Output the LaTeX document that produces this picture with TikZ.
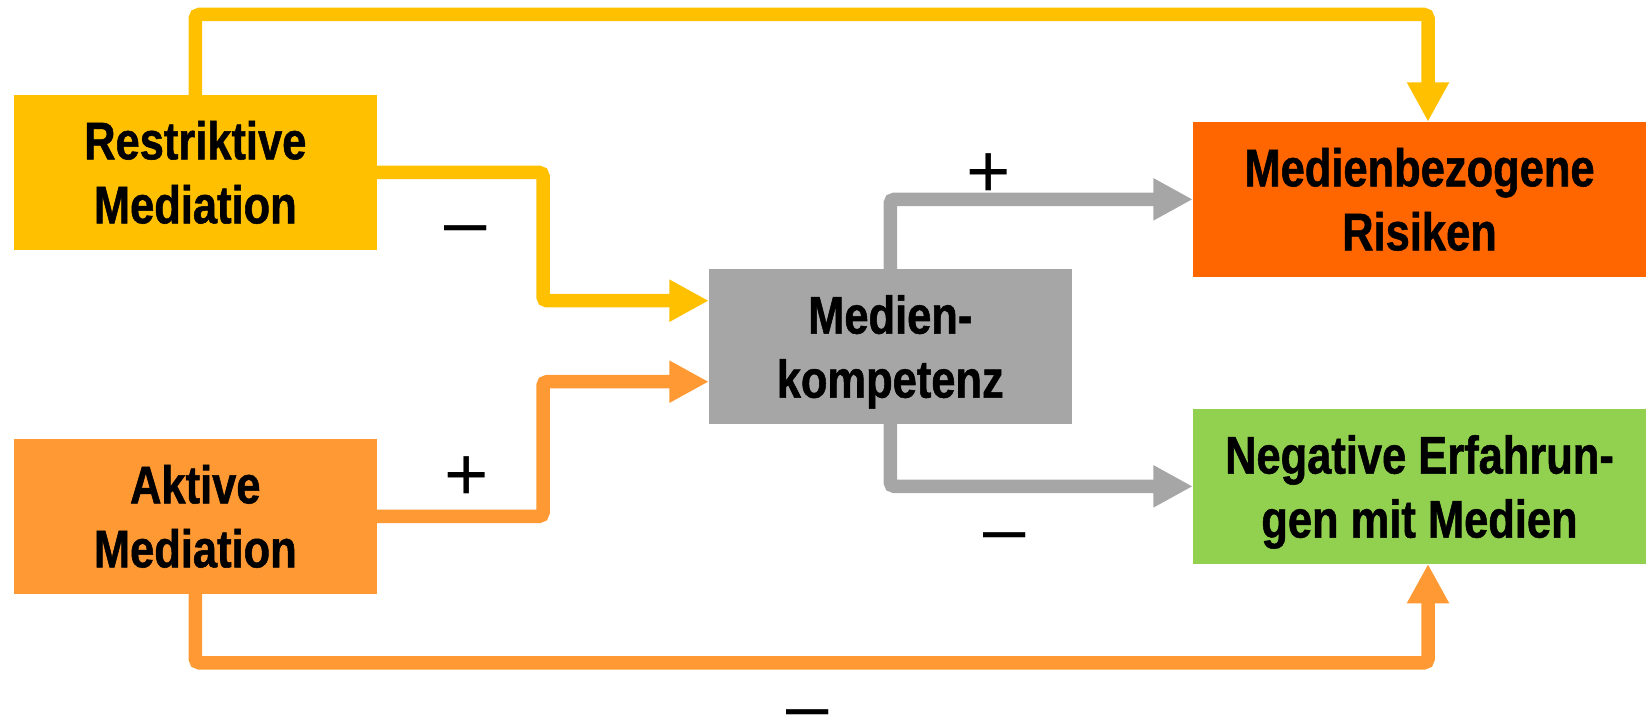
\documentclass[tikz,border=0pt]{standalone}
\usepackage{fontspec}
\setmainfont{Liberation Sans}
\newfontfamily\boxfont{Liberation Sans}[FakeStretch=0.82,FakeBold=1]
\usetikzlibrary{arrows.meta}
\definecolor{cyellow}{HTML}{FFC000}
\definecolor{corange}{HTML}{FF9933}
\definecolor{cred}{HTML}{FF6600}
\definecolor{cgray}{HTML}{A6A6A6}
\definecolor{cgreen}{HTML}{92D050}
% signs whose box is their own ink, centred on the node anchor
\newcommand\minussign{\raisebox{-0.254em}[0.034em][0.034em]{–}}
\newcommand\plussign{\raisebox{-0.357em}[0.24em][0.24em]{+}}

\begin{document}
\begin{tikzpicture}[x=1pt,y=-1pt,
  box/.style={inner sep=0pt, align=center, text=black,
    font=\boxfont\bfseries\fontsize{53}{64}\selectfont,
    minimum height=154.7pt},
  leftbox/.style={box, minimum width=363pt},
  rightbox/.style={box, minimum width=453pt},
  link/.style={line width=13.5pt, rounded corners=4pt,
    -{Triangle[length=39.4pt,width=39.4pt]}},
  sign/.style={font=\fontsize{76}{80}\selectfont, inner sep=0pt, anchor=center}]
\useasboundingbox (0,0) rectangle (1646,719);

% boxes
\node[leftbox, fill=cyellow] (R) at (195.3,172.35) {Restriktive\\Mediation};
\node[leftbox, fill=corange] (A) at (195.3,516.35) {Aktive\\Mediation};
\node[box, fill=cgray, minimum width=362.5pt] (M) at (890.25,346.4) {Medien-\\\smash{kompetenz}};
\node[rightbox, fill=cred] (Risk) at (1419.5,199.35) {Medienbezogene\\Risiken};
\node[rightbox, fill=cgreen] (Neg) at (1419.5,486.35) {Negative Erfahrun-\\\smash{gen mit Medien}};

% bend points of the connectors
\coordinate (rm) at (543,300.7);
\coordinate (am) at (543,381.7);
\coordinate (top) at (1428,14.5);
\coordinate (bot) at (1428,662.8);

% connectors
\draw[link, cyellow] (R.north) |- (top) -- (top |- Risk.north);
\draw[link, cyellow] (R.east) -| (rm) -- (rm -| M.west);
\draw[link, corange] (A.east) -| (am) -- (am -| M.west);
\draw[link, corange] (A.south) |- (bot) -- (bot |- Neg.south);
\draw[link, cgray] (M.north) |- (Risk.west);
\draw[link, cgray] (M.south) |- (Neg.west);

% signs of the effects
\node[sign] (s1) at (466,228) {\minussign};
\node[sign] (s2) at (989,170.7) {\plussign};
\node[sign] (s3) at (467,473) {\plussign};
\node[sign] (s4) at (1004.5,535) {\minussign};
\node[sign] (s5) at (807.5,712) {\minussign};
\end{tikzpicture}
\end{document}
